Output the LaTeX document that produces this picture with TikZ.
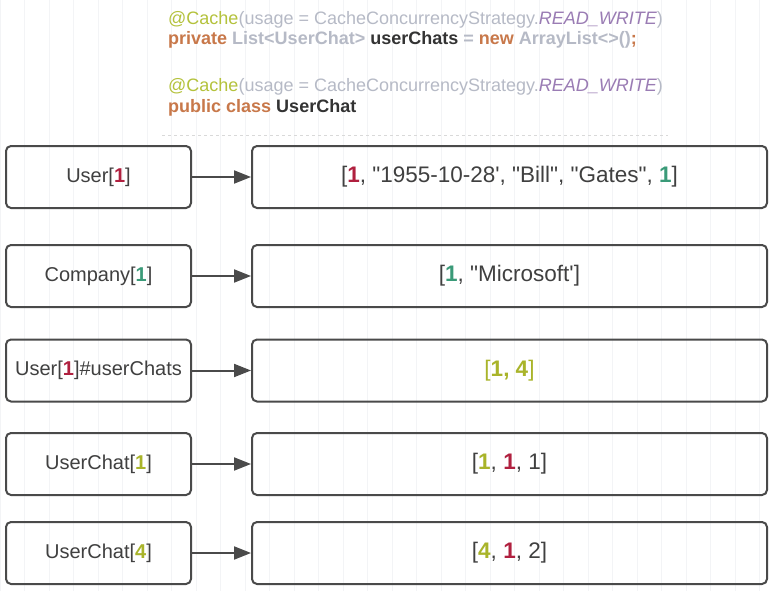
\documentclass[tikz,border=0pt]{standalone}
\usepackage{fontspec}
\setmainfont{Liberation Sans}[Ligatures=TeXOff]
\usetikzlibrary{arrows.meta}
\definecolor{boxline}{HTML}{4A4A4A}
\definecolor{txt}{HTML}{404040}
\definecolor{gridcol}{HTML}{F3F4F6}
\definecolor{idred}{HTML}{B0203F}
\definecolor{idgreen}{HTML}{3A9A78}
\definecolor{idolive}{HTML}{A9B42A}
\definecolor{annot}{HTML}{B4C23C}
\definecolor{codegray}{HTML}{B6BAC6}
\definecolor{codepurple}{HTML}{9A7CB4}
\definecolor{codeorange}{HTML}{C8784A}
\definecolor{codedark}{HTML}{333333}
\newcommand\redid[1]{\textcolor{idred}{\textbf{#1}}}
\newcommand\greenid[1]{\textcolor{idgreen}{\textbf{#1}}}
\newcommand\oliveid[1]{\textcolor{idolive}{\textbf{#1}}}
\newcommand\cacheline{\textcolor{annot}{@Cache}\textcolor{codegray}{(usage = CacheConcurrencyStrategy.}\textcolor{codepurple}{\itshape READ\_WRITE}\textcolor{codegray}{)}}
\tikzset{
	keybox/.style={draw=boxline, line width=2pt, rounded corners=5pt, minimum width=185pt, minimum height=62pt, inner sep=0pt, text=txt, font=\fontsize{20}{24}\selectfont},
	valbox/.style={keybox, minimum width=515pt, font=\fontsize{22.5}{27}\selectfont},
	link/.style={draw=boxline, line width=2pt, -{Triangle[length=17pt,width=13pt]}},
	codeline/.style={anchor=base west, inner sep=0pt, font=\fontsize{18}{21}\selectfont},
}
\begin{document}
\begin{tikzpicture}[x=1pt,y=-1pt]
	\useasboundingbox (0,0) rectangle (773,591);
	\fill[white] (0,0) rectangle (773,591);
	\draw[gridcol, line width=0.8pt, step=24.5] (0,0) grid (773,591);

	% annotations on top
	\node[codeline] (anno1) at (168,25) {\cacheline};
	\node[codeline] (field) at (168,45) {\bfseries\textcolor{codeorange}{private} \textcolor{codegray}{List<UserChat>} \textcolor{codedark}{userChats} \textcolor{codegray}{=} \textcolor{codeorange}{new} \textcolor{codegray}{ArrayList<>()}\textcolor{codeorange}{;}};
	\node[codeline] (anno2) at (168,92) {\cacheline};
	\node[codeline] (cls) at (168,113) {\bfseries\textcolor{codeorange}{public class} \textcolor{codedark}{UserChat}};
	\draw[gray!30, line width=0.8pt, dashed] (162,135) -- (668,135);

	% cache regions
	\node[keybox] (user) at (98.5,177) {User[\redid{1}]};
	\node[valbox] (userval) at (509.5,177) {[\redid{1}, "1955-10-28', "Bill", "Gates", \greenid{1}]};

	\node[keybox] (company) at (98.5,276) {Company[\greenid{1}]};
	\node[valbox] (companyval) at (509.5,276) {[\greenid{1}, "Microsoft']};

	\node[keybox] (chats) at (98.5,370.5) {User[\redid{1}]\#userChats};
	\node[valbox] (chatsval) at (509.5,370.5) {\textcolor{idolive}{[\textbf{1, 4}]}};

	\node[keybox] (chatone) at (98.5,464) {UserChat[\oliveid{1}]};
	\node[valbox] (chatoneval) at (509.5,464) {[\oliveid{1}, \redid{1}, 1]};

	\node[keybox] (chatfour) at (98.5,553) {UserChat[\oliveid{4}]};
	\node[valbox] (chatfourval) at (509.5,553) {[\oliveid{4}, \redid{1}, 2]};

	\draw[link] (user) -- (userval);
	\draw[link] (company) -- (companyval);
	\draw[link] (chats) -- (chatsval);
	\draw[link] (chatone) -- (chatoneval);
	\draw[link] (chatfour) -- (chatfourval);
\end{tikzpicture}
\end{document}
